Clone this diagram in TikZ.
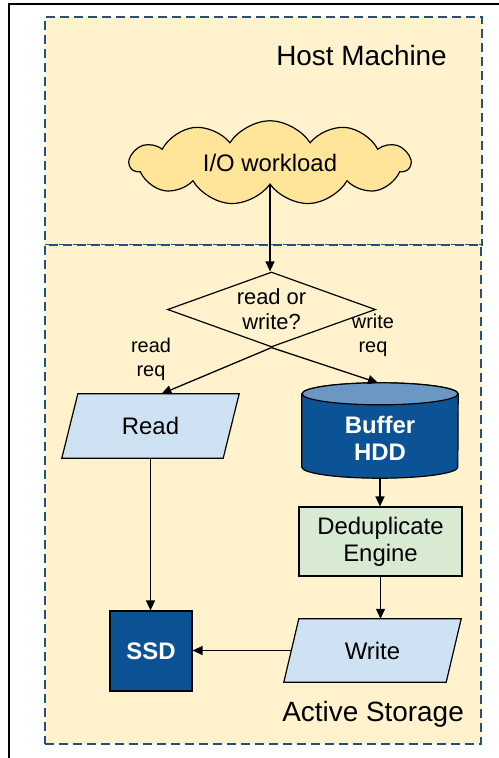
\documentclass[tikz,border=0pt]{standalone}
\usepackage{fontspec}
\setmainfont{Liberation Sans}
\usetikzlibrary{shapes.geometric,shapes.symbols,arrows.meta,backgrounds}

\definecolor{regionfill}{HTML}{FFF2CC}
\definecolor{regionline}{HTML}{24507A}
\definecolor{cloudfill}{HTML}{FFE599}
\definecolor{iofill}{HTML}{CFE2F3}
\definecolor{dedupfill}{HTML}{D9EAD3}
\definecolor{darkblue}{HTML}{0B5394}
\definecolor{cyltop}{HTML}{6A98C3}

\begin{document}
\begin{tikzpicture}[x=1bp,y=-1bp,
  region/.style={rectangle, fill=regionfill, draw=regionline, line width=1.5bp,
    dash pattern=on 9bp off 5bp, inner sep=0pt},
  regiontitle/.style={font=\fontsize{28}{32}\selectfont, inner sep=0pt},
  shapeline/.style={draw=black, line width=1.2bp},
  nodetext/.style={font=\fontsize{24}{27}\selectfont, align=center, inner sep=0pt},
  iobox/.style={rectangle, nodetext},
  iofillshape/.style={fill=iofill, shapeline, line join=miter},
  procbox/.style={rectangle, fill=dedupfill, shapeline, nodetext},
  storebox/.style={rectangle, fill=darkblue, shapeline, nodetext, text=white,
    font=\fontsize{24}{27}\selectfont\bfseries},
  edgelabel/.style={font=\fontsize{20}{24}\selectfont, align=center, inner sep=0pt},
  conn/.style={draw=black, line width=1.3bp, -{Triangle[length=10bp,width=9bp]}}
]
\useasboundingbox (0,0) rectangle (499,758);

% frame lines
\draw[line width=1.5bp] (9,758) -- (9,4) -- (499,4);

% host and storage regions
\begin{scope}[on background layer]
\node[region, minimum width=437bp, minimum height=228bp] (host) at (263.5,131) {};
\node[region, minimum width=436bp, minimum height=499bp] (storage) at (263,494.5) {};
\end{scope}
\node[regiontitle, anchor=base east] (hosttitle) at (447,65.5) {Host Machine};
\node[regiontitle, anchor=base east] (storagetitle) at (464,721) {Active Storage};

% workload cloud
\node[cloud, cloud puffs=11, cloud puff arc=115, aspect=3.3, fill=cloudfill,
  shapeline, minimum width=280bp, minimum height=84bp, inner sep=0pt,
  font=\fontsize{24}{27}\selectfont] (cloud) at (270,163) {I/O workload};

% decision
\node[diamond, shapeline, minimum width=208bp, minimum height=75bp, inner sep=0pt]
  (dec) at (271.5,309.5) {};
\node[font=\fontsize{22}{25}\selectfont, align=center, inner sep=0pt]
  (dectext) at (271.5,309.5) {read or\\write?};

% buffer disk drawn as a cylinder
\node[rectangle, minimum width=156bp, minimum height=95bp, inner sep=0pt]
  (hdd) at (380,430.5) {};
\path[fill=darkblue, shapeline]
  ([yshift=-11bp]hdd.north west) -- ([yshift=11bp]hdd.south west)
  arc[start angle=180, end angle=360, x radius=78bp, y radius=11bp]
  -- ([yshift=-11bp]hdd.north east)
  arc[start angle=0, end angle=180, x radius=78bp, y radius=11bp] -- cycle;
\path[fill=cyltop, shapeline] ([yshift=-11bp]hdd.north)
  ellipse[x radius=78bp, y radius=11bp];
\node[nodetext, text=white, font=\fontsize{24}{27}\selectfont\bfseries]
  (hddtext) at (380,438) {Buffer\\HDD};

% read / write steps: text nodes with slanted outlines behind them
\node[iobox, minimum width=177bp, minimum height=64bp] (read) at (150.5,426) {Read};
\node[iobox, minimum width=177bp, minimum height=63bp] (write) at (372.5,650.5) {Write};
\begin{scope}[on background layer]
\path[iofillshape] (read.south west) -- ([xshift=-16bp]read.south east)
  -- (read.north east) -- ([xshift=16bp]read.north west) -- cycle;
\path[iofillshape] (write.south west) -- ([xshift=-15bp]write.south east)
  -- (write.north east) -- ([xshift=15bp]write.north west) -- cycle;
\end{scope}
\coordinate (writeleft) at ([xshift=7.5bp]write.west);

\node[procbox, minimum width=163bp, minimum height=69bp] (dedup) at (380.5,541.5)
  {Deduplicate\\Engine};
\node[storebox, minimum width=82bp, minimum height=80bp] (ssd) at (151,651) {SSD};

% branch labels
\node[edgelabel] (readlbl) at (151,359) {read\\req};
\node[edgelabel] (writelbl) at (373,335) {write\\req};

% connectors
\draw[conn] (cloud.south) -- (cloud.south |- dec.north);
\draw[conn] (dec.south) -- ([xshift=11bp]read.north);
\draw[conn] (dec.south) -- ([xshift=-2bp]hdd.north);
\draw[conn] (hdd.south) -- (hdd.south |- dedup.north);
\draw[conn] (dedup.south) -- (dedup.south |- write.north);
\draw[conn] (read.south) -- (read.south |- ssd.north);
\draw[conn] (writeleft) -- (writeleft -| ssd.east);
\end{tikzpicture}
\end{document}
